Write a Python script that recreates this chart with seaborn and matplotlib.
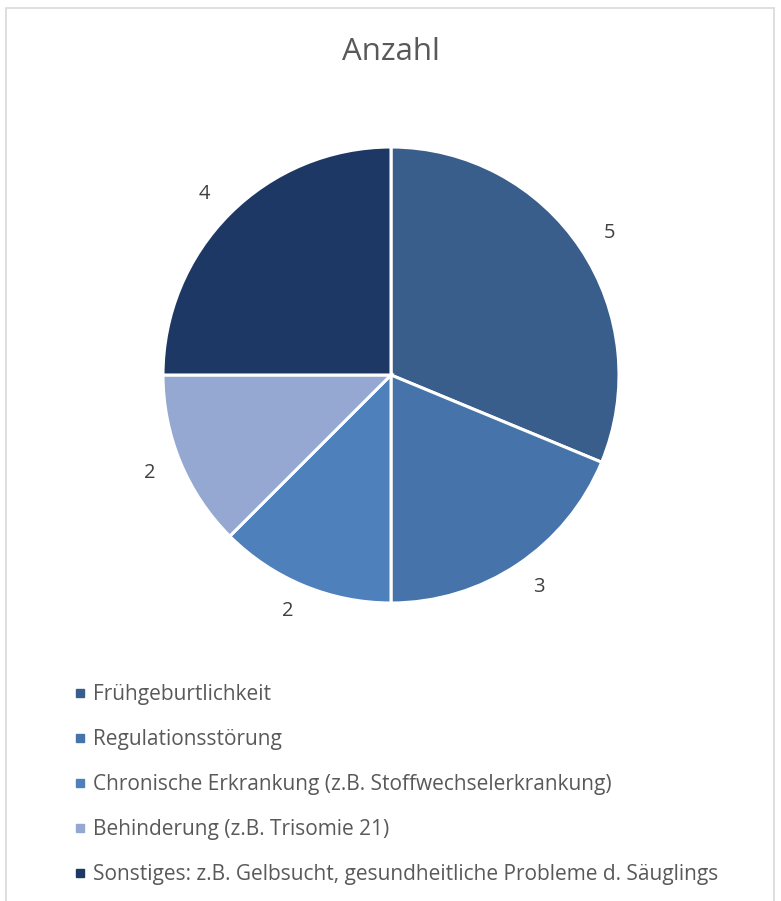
import matplotlib
matplotlib.use("Agg")
import matplotlib.pyplot as plt
from matplotlib.patches import Rectangle
from matplotlib.lines import Line2D
import seaborn as sns

categories = [
    "Frühgeburtlichkeit",
    "Regulationsstörung",
    "Chronische Erkrankung (z.B. Stoffwechselerkrankung)",
    "Behinderung (z.B. Trisomie 21)",
    "Sonstiges: z.B. Gelbsucht, gesundheitliche Probleme d. Säuglings",
]
values = [5, 3, 2, 2, 4]
title = "Anzahl"
colors = ["#3A5E8C", "#4674AA", "#4E80BC", "#95A8D1", "#1D3865"]

sns.set_theme(style="white")
plt.rcParams["font.family"] = ["Open Sans", "DejaVu Sans"]

W, H = 781, 901
fig = plt.figure(figsize=(W / 100, H / 100), dpi=100)
fig.patch.set_facecolor("white")

# chart border
fig.patches.append(Rectangle((6 / W, -0.02), 768 / W, (H - 8) / H + 0.02,
                             transform=fig.transFigure, fill=False,
                             edgecolor="#d9d9d9", lw=1.2))

cx, cy, r = 391, 375, 228
ax = fig.add_axes([(cx - r) / W, (H - cy - r) / H, 2 * r / W, 2 * r / H])
palette = sns.color_palette(colors)
ax.pie(values, labels=[str(v) for v in values], colors=palette,
       startangle=90, counterclock=False, radius=1,
       labeldistance=1.12,
       wedgeprops=dict(edgecolor="white", linewidth=2.2),
       textprops=dict(color="#404040", fontsize=14.5))
ax.set_xlim(-1, 1)
ax.set_ylim(-1, 1)
ax.set_aspect("equal")
ax.axis("off")

fig.text(cx / W, 1 - 52 / H, title, ha="center", va="center",
         fontsize=22.5, color="#595959")

handles = [Line2D([], [], marker="s", linestyle="none", markersize=5.8,
                  markerfacecolor=c, markeredgecolor=c) for c in palette]
leg = fig.legend(handles, categories, loc="upper left",
                 bbox_to_anchor=(74 / W, 1 - 684 / H),
                 frameon=False, fontsize=15, labelcolor="#595959",
                 handlelength=0.6, handletextpad=0.31, labelspacing=1.15,
                 borderpad=0, borderaxespad=0)

fig.savefig("out.png", dpi=100)
